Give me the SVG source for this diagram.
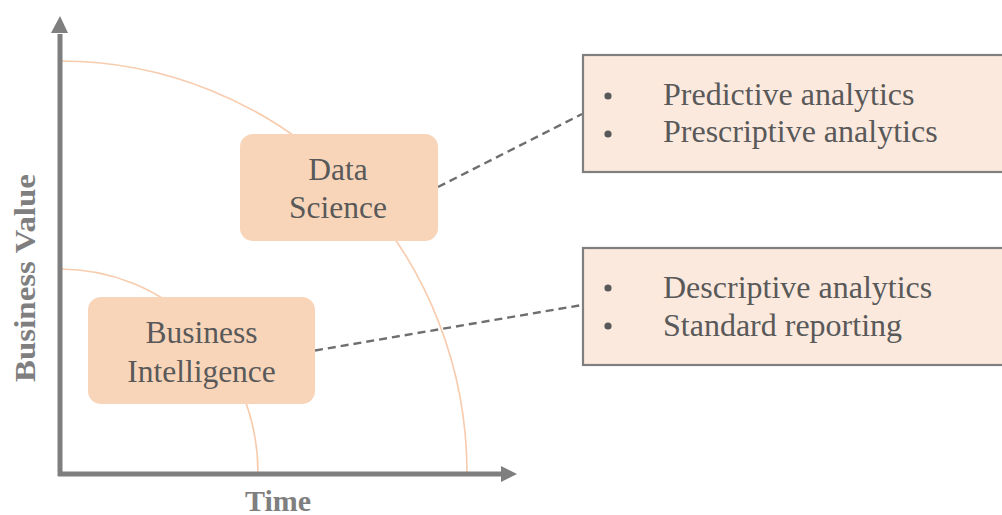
<svg xmlns="http://www.w3.org/2000/svg" width="1002" height="515" viewBox="0 0 1002 515">
<defs>
<style>
.arc{fill:none;stroke:#F8CBAD;stroke-width:1.6}
.axis{stroke:#7F7F7F;stroke-width:5;fill:none}
.node{fill:#F8D5B9}
.list{fill:#FCE9DE;stroke:#7F7F7F;stroke-width:2.2}
.t{font-family:"Liberation Serif","Times New Roman",serif;fill:#595959}
.nt{font-size:31.5px;text-anchor:middle}
.lt{font-size:32px}
.ax{font-size:30px;font-weight:bold;fill:#7F7F7F;text-anchor:middle}
.dash{stroke:#6E6E6E;stroke-width:2.4;stroke-dasharray:8 5;fill:none}
.bul{fill:#595959}
</style>
</defs>
<g id="arcs">
<path class="arc" d="M60,61 A407,412 0 0 1 467,473"/>
<path class="arc" d="M60,269 A198,204 0 0 1 258,473"/>
</g>
<g id="axes">
<path class="axis" d="M60,476 L60,34"/>
<path d="M51,33 L60,16 L68,33 z" fill="#7F7F7F"/>
<path class="axis" d="M58,474 L502,474"/>
<path d="M501,466 L517,474 L501,482 z" fill="#7F7F7F"/>
<text class="t ax" transform="translate(35,278) rotate(-90)" textLength="208" lengthAdjust="spacingAndGlyphs">Business Value</text>
<text class="t ax" x="278" y="511">Time</text>
</g>
<g id="connectors">
<line class="dash" x1="438" y1="187" x2="582" y2="114"/>
<line class="dash" x1="315" y1="350.5" x2="582" y2="305"/>
</g>
<g id="data-science">
<rect class="node" x="240" y="134" width="198" height="107" rx="13"/>
<text class="t nt" x="338" y="180">Data</text>
<text class="t nt" x="338" y="218">Science</text>
</g>
<g id="business-intelligence">
<rect class="node" x="88" y="297" width="227" height="107" rx="13"/>
<text class="t nt" x="201.5" y="343">Business</text>
<text class="t nt" x="201.5" y="382">Intelligence</text>
</g>
<g id="ds-list">
<rect class="list" x="583" y="55" width="430" height="117"/>
<circle class="bul" cx="608" cy="96" r="3.6"/>
<circle class="bul" cx="608" cy="134" r="3.6"/>
<text class="t lt" x="663" y="105">Predictive analytics</text>
<text class="t lt" x="663" y="142">Prescriptive analytics</text>
</g>
<g id="bi-list">
<rect class="list" x="583" y="248" width="430" height="117"/>
<circle class="bul" cx="608" cy="288" r="3.6"/>
<circle class="bul" cx="608" cy="326" r="3.6"/>
<text class="t lt" x="663" y="298">Descriptive analytics</text>
<text class="t lt" x="663" y="336">Standard reporting</text>
</g>
</svg>
